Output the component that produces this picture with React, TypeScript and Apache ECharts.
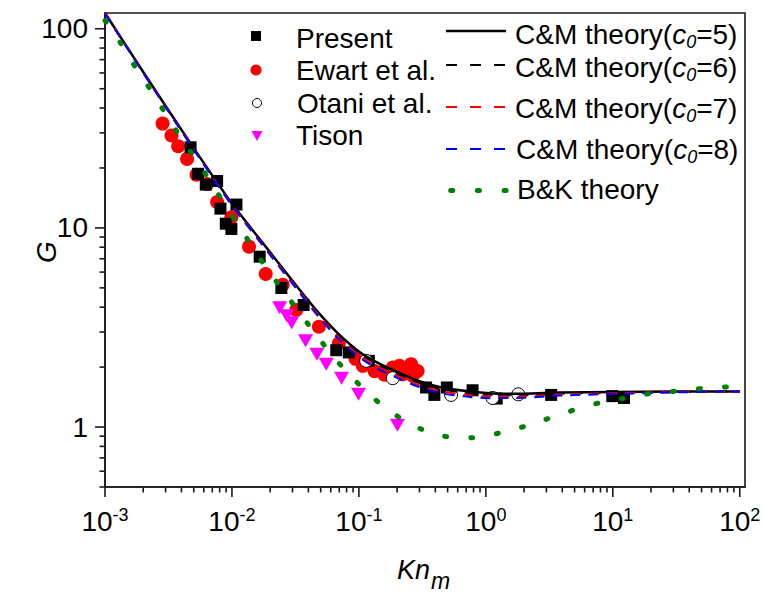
import React, { useEffect, useRef } from 'react';
import * as echarts from 'echarts';

const FONT = '"Liberation Sans", Arial, Helvetica, sans-serif';
const AX = '#1a1a1a';

// ---- Data ----
const presentKn = [0.00472, 0.00541, 0.00622, 0.00764, 0.00812, 0.01085, 0.00894, 0.0099, 0.01654, 0.0245, 0.0367, 0.0663, 0.0833, 0.1197, 0.338, 0.393, 0.493, 0.786, 1.218, 3.27, 9.91, 12.25];
const presentG = [25.4, 18.7, 16.5, 17.2, 12.5, 13.1, 10.5, 9.88, 7.17, 4.99, 4.10, 2.43, 2.37, 2.15, 1.58, 1.45, 1.58, 1.53, 1.39, 1.45, 1.43, 1.40];

const ewartKn = [0.00284, 0.00334, 0.00377, 0.00443, 0.00526, 0.00637, 0.00764, 0.0099, 0.01363, 0.01844, 0.0251, 0.0321, 0.0484, 0.0695, 0.094, 0.1073, 0.1326, 0.159, 0.1848, 0.2086, 0.221, 0.2578, 0.2653, 0.29];
const ewartG = [33.4, 29.1, 25.7, 22.2, 18.5, 16.6, 13.5, 11.3, 8.05, 5.87, 5.18, 3.87, 3.19, 2.63, 2.20, 2.03, 1.91, 1.83, 1.99, 2.03, 1.84, 2.07, 1.81, 1.91];

const otaniKn = [0.1141, 0.1848, 0.532, 1.129, 1.80];
const otaniG = [2.15, 1.76, 1.45, 1.40, 1.46];

const tisonKn = [0.02375, 0.02697, 0.02952, 0.038, 0.0467, 0.0553, 0.073, 0.0993, 0.201];
const tisonG = [3.97, 3.62, 3.34, 2.71, 2.32, 2.07, 1.76, 1.46, 1.02];

const cmKn = [0.001, 0.002, 0.00466, 0.01, 0.0187, 0.0341, 0.049, 0.0704, 0.1005, 0.145, 0.209, 0.2996, 0.43, 0.676, 1.06, 2, 3.78, 10, 30, 100];
const cm5G = [120, 60.7, 26.9, 13.25, 7.96, 4.89, 3.70, 2.90, 2.39, 2.08, 1.87, 1.70, 1.59, 1.52, 1.48, 1.47, 1.49, 1.50, 1.51, 1.51];
const cm6G = [120, 60.47, 26.74, 13.15, 7.88, 4.83, 3.64, 2.84, 2.34, 2.03, 1.827, 1.661, 1.554, 1.488, 1.452, 1.448, 1.473, 1.488, 1.504, 1.51];
const cm7G = [120, 60.23, 26.59, 13.05, 7.81, 4.78, 3.59, 2.79, 2.29, 1.99, 1.785, 1.623, 1.518, 1.457, 1.424, 1.425, 1.456, 1.477, 1.498, 1.51];
const cm8G = [119, 60.0, 26.44, 12.95, 7.73, 4.72, 3.53, 2.74, 2.24, 1.94, 1.744, 1.586, 1.483, 1.426, 1.397, 1.403, 1.439, 1.466, 1.493, 1.51];

const bkKn = [0.001, 0.00135, 0.00175, 0.0023, 0.003, 0.00389, 0.00519, 0.00681, 0.00878, 0.0115, 0.0151, 0.0198, 0.0265, 0.0358, 0.0481, 0.0655, 0.0896, 0.13, 0.194, 0.309, 0.5, 0.811, 1.3, 2.04, 2.93, 4.26, 6.04, 8.18, 11.9, 17.9, 27.3, 39.7, 63.5, 100];
const bkG = [110, 83.4, 63.6, 49.1, 37.5, 28.8, 22.1, 17.0, 13.1, 10.1, 7.69, 5.98, 4.65, 3.60, 2.80, 2.19, 1.76, 1.40, 1.15, 0.977, 0.894, 0.884, 0.936, 1.01, 1.09, 1.18, 1.27, 1.33, 1.39, 1.46, 1.50, 1.54, 1.58, 1.60];

// ---- Axes / ticks ----
const X_MIN = 0.001;
const X_MAX = 110;
const Y_MIN = 0.5;
const Y_MAX = 120;
const xDecades = [0.001, 0.01, 0.1, 1, 10, 100];
const yDecades = [1, 10, 100];
const minorMant = [2, 3, 4, 5, 6, 7, 8, 9];
const yLowMinor = [0.5, 0.6, 0.7, 0.8, 0.9];

const zip = (a: number[], b: number[]) => a.map((v, i) => [v, b[i]]);

const isPow10 = (v: number) => {
  const l = Math.log10(v);
  return Math.abs(l - Math.round(l)) < 1e-6;
};

function buildOption() {
  const MAJ = 10;
  const MIN = 5.5;
  const xTicks: number[][] = [];
  xDecades.forEach((d, i) => {
    xTicks.push([d, Y_MIN, MAJ]);
    if (i < xDecades.length - 1) minorMant.forEach((m) => xTicks.push([d * m, Y_MIN, MIN]));
  });
  const yTicks: number[][] = [];
  yLowMinor.forEach((v) => yTicks.push([X_MIN, v, MIN]));
  yDecades.forEach((d, i) => {
    yTicks.push([X_MIN, d, MAJ]);
    if (i < yDecades.length - 1) minorMant.forEach((m) => yTicks.push([X_MIN, d * m, MIN]));
  });

  const LF = 28;
  const subRich = {
    n: { fontSize: LF, fontFamily: FONT, color: '#000', lineHeight: 34 },
    i: { fontSize: LF, fontFamily: FONT, color: '#000', lineHeight: 34, fontStyle: 'italic' },
    s: { fontSize: 18, fontFamily: FONT, color: '#000', lineHeight: 18, fontStyle: 'italic', verticalAlign: 'bottom' },
  };
  const cmLabel = (c: number) => `{n|C&M theory(}{i|c}{s|0}{n|=${c})}`;

  const textStyle = (text: string, x: number, y: number) => ({
    type: 'text',
    silent: true,
    style: { text, x, y, fill: '#000', fontSize: LF, fontFamily: FONT, verticalAlign: 'middle', align: 'left' },
  });

  const graphic: any[] = [
    // left legend
    { type: 'rect', silent: true, shape: { x: 251, y: 31, width: 10, height: 10 }, style: { fill: '#000' } },
    textStyle('Present', 296, 38),
    { type: 'circle', silent: true, shape: { cx: 256, cy: 70, r: 5.5 }, style: { fill: '#ff0000' } },
    textStyle('Ewart et al.', 296, 70),
    { type: 'circle', silent: true, shape: { cx: 257, cy: 103, r: 4.5 }, style: { fill: '#fff', stroke: '#000', lineWidth: 1 } },
    textStyle('Otani et al.', 297, 103),
    { type: 'polygon', silent: true, shape: { points: [[251.5, 131], [262.5, 131], [257, 141]] }, style: { fill: '#ff00ff' } },
    textStyle('Tison', 296, 135),
    // right legend
    { type: 'line', silent: true, shape: { x1: 446, y1: 31, x2: 506, y2: 31 }, style: { stroke: '#000', lineWidth: 2.5 } },
    { type: 'text', silent: true, style: { text: cmLabel(5), x: 515, y: 34, verticalAlign: 'middle', rich: subRich } },
    { type: 'line', silent: true, shape: { x1: 446, y1: 65, x2: 506, y2: 65 }, style: { stroke: '#000', lineWidth: 2, lineDash: [11, 13] } },
    { type: 'text', silent: true, style: { text: cmLabel(6), x: 515, y: 67, verticalAlign: 'middle', rich: subRich } },
    { type: 'line', silent: true, shape: { x1: 446, y1: 107, x2: 506, y2: 107 }, style: { stroke: '#ff0000', lineWidth: 2, lineDash: [11, 13] } },
    { type: 'text', silent: true, style: { text: cmLabel(7), x: 515, y: 108, verticalAlign: 'middle', rich: subRich } },
    { type: 'line', silent: true, shape: { x1: 446, y1: 149, x2: 506, y2: 149 }, style: { stroke: '#0000ff', lineWidth: 2, lineDash: [11, 13] } },
    { type: 'text', silent: true, style: { text: cmLabel(8), x: 516, y: 149, verticalAlign: 'middle', rich: subRich } },
    { type: 'line', silent: true, shape: { x1: 450.7, y1: 190.5, x2: 510, y2: 190.5 }, style: { stroke: '#008000', lineWidth: 5, lineDash: [2, 24.7], lineCap: 'round' } },
    textStyle('B&K theory', 517, 189),
    // axis names
    {
      type: 'text', silent: true, x: 46, y: 252, rotation: Math.PI / 2,
      style: { text: 'G', fill: '#000', fontSize: 28, fontFamily: FONT, fontStyle: 'italic', align: 'center', verticalAlign: 'middle' },
    },
    { type: 'text', silent: true, style: { text: 'Kn', x: 397, y: 570, fill: '#000', fontSize: 27, fontFamily: FONT, fontStyle: 'italic', verticalAlign: 'middle', align: 'left' } },
    { type: 'text', silent: true, style: { text: 'm', x: 431, y: 581, fill: '#000', fontSize: 23, fontFamily: FONT, fontStyle: 'italic', verticalAlign: 'middle', align: 'left' } },
  ];

  const cmLine = (name: string, data: number[], color: string, dashed: boolean, width: number) => ({
    name,
    type: 'line',
    data: zip(cmKn, data),
    showSymbol: false,
    symbol: 'none',
    smooth: 0.25,
    silent: true,
    lineStyle: { color, width, type: dashed ? [10, 8] : 'solid' },
  });

  return {
    animation: false,
    backgroundColor: '#ffffff',
    textStyle: { fontFamily: FONT },
    grid: { left: 105, right: 19, top: 13, bottom: 109, show: true, borderColor: AX, borderWidth: 1.6, backgroundColor: 'transparent' },
    xAxis: {
      type: 'log',
      logBase: 10,
      min: X_MIN,
      max: X_MAX,
      axisLine: { show: true, lineStyle: { color: AX, width: 1.6 } },
      axisTick: { show: false },
      minorTick: { show: false },
      splitLine: { show: false },
      axisLabel: {
        margin: 19,
        color: '#000',
        formatter: (v: number) => (isPow10(v) && v <= 100.0001 ? `{b|10}{s|${Math.round(Math.log10(v))}}` : ''),
        rich: {
          b: { fontSize: 28, fontFamily: FONT, color: '#000', lineHeight: 31 },
          s: { fontSize: 18, fontFamily: FONT, color: '#000', lineHeight: 18, verticalAlign: 'top' },
        },
      },
    },
    yAxis: {
      type: 'log',
      logBase: 10,
      min: Y_MIN,
      max: Y_MAX,
      axisLine: { show: true, lineStyle: { color: AX, width: 1.6 } },
      axisTick: { show: false },
      minorTick: { show: false },
      splitLine: { show: false },
      axisLabel: {
        margin: 17,
        color: '#000',
        fontSize: 28,
        fontFamily: FONT,
        formatter: (v: number) => (isPow10(v) && v >= 0.9999 && v <= 100.0001 ? String(Math.round(v)) : ''),
      },
    },
    graphic,
    series: [
      { name: 'Ewart et al.', type: 'scatter', data: zip(ewartKn, ewartG), symbol: 'circle', symbolSize: 14, silent: true, itemStyle: { color: '#ff0000', opacity: 1 } },
      { name: 'Tison', type: 'scatter', data: zip(tisonKn, tisonG), symbol: 'triangle', symbolRotate: 180, symbolSize: [15, 13], silent: true, itemStyle: { color: '#ff00ff', opacity: 1 } },
      { name: 'Present', type: 'scatter', data: zip(presentKn, presentG), symbol: 'rect', symbolSize: 12, silent: true, itemStyle: { color: '#000', opacity: 1 } },
      cmLine('C&M theory(c0=5)', cm5G, '#000000', false, 2.5),
      cmLine('C&M theory(c0=6)', cm6G, '#000000', true, 2),
      cmLine('C&M theory(c0=7)', cm7G, '#ff0000', true, 2),
      cmLine('C&M theory(c0=8)', cm8G, '#0000ff', true, 2),
      { name: 'Otani et al.', type: 'scatter', data: zip(otaniKn, otaniG), symbol: 'circle', symbolSize: 13, silent: true, itemStyle: { color: '#ffffff', borderColor: '#000', borderWidth: 1, opacity: 1 } },
      {
        name: 'B&K theory',
        type: 'line',
        data: zip(bkKn, bkG),
        showSymbol: false,
        symbol: 'none',
        smooth: 0.3,
        silent: true,
        lineStyle: { color: '#008000', width: 5, type: [2, 24], cap: 'round' },
      },
      {
        name: 'xticks',
        type: 'custom',
        silent: true,
        clip: false,
        encode: { x: 0, y: 1 },
        data: xTicks,
        renderItem: (_p: any, api: any) => {
          const pt = api.coord([api.value(0), api.value(1)]);
          const len = api.value(2);
          return { type: 'line', shape: { x1: pt[0], y1: pt[1], x2: pt[0], y2: pt[1] + len }, style: { stroke: AX, lineWidth: 1.6 } };
        },
      },
      {
        name: 'yticks',
        type: 'custom',
        silent: true,
        clip: false,
        encode: { x: 0, y: 1 },
        data: yTicks,
        renderItem: (_p: any, api: any) => {
          const pt = api.coord([api.value(0), api.value(1)]);
          const len = api.value(2);
          return { type: 'line', shape: { x1: pt[0] - len, y1: pt[1], x2: pt[0], y2: pt[1] }, style: { stroke: AX, lineWidth: 1.6 } };
        },
      },
    ],
  };
}

export default function App() {
  const ref = useRef<HTMLDivElement>(null);
  useEffect(() => {
    if (!ref.current) return;
    const chart = echarts.init(ref.current, undefined, { renderer: 'svg' });
    chart.setOption(buildOption() as any);
    return () => chart.dispose();
  }, []);
  return (
    <div
      ref={ref}
      style={{ position: 'fixed', left: 0, top: 0, width: 764, height: 596, background: '#fff' }}
    />
  );
}
